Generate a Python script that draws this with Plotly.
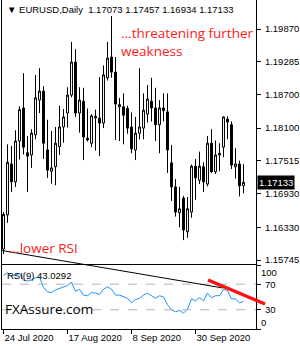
import plotly.graph_objects as go
import pandas as pd

# ---------------- data ----------------
dates = [d.strftime("%Y-%m-%d") for d in pd.bdate_range("2020-07-24", "2020-10-16")]

open_ = [1.1594, 1.1655, 1.1746, 1.1714, 1.1787, 1.1846, 1.1766, 1.1762, 1.1798, 1.1860,
         1.1876, 1.1771, 1.1733, 1.1741, 1.1777, 1.1812, 1.1837, 1.1869, 1.1928, 1.1837,
         1.1858, 1.1792, 1.1783, 1.1828, 1.1828, 1.1819, 1.1900, 1.1937, 1.1910, 1.1848,
         1.1848, 1.1845, 1.1812, 1.1771, 1.1801, 1.1810, 1.1835, 1.1858, 1.1846, 1.1816,
         1.1846, 1.1839, 1.1748, 1.1705, 1.1659, 1.1685, 1.1625, 1.1660, 1.1742, 1.1717,
         1.1741, 1.1710, 1.1783, 1.1732, 1.1762, 1.1776, 1.1826, 1.1816, 1.1741, 1.1746,
         1.17073]
high = [1.1660, 1.1781, 1.1778, 1.1806, 1.1849, 1.1908, 1.1796, 1.1808, 1.1905, 1.1917,
        1.1885, 1.1825, 1.1805, 1.1812, 1.1850, 1.1844, 1.1883, 1.1964, 1.1951, 1.1883,
        1.1882, 1.1845, 1.1835, 1.1843, 1.1901, 1.1922, 1.1964, 1.2010, 1.1937, 1.1864,
        1.1872, 1.1850, 1.1838, 1.1830, 1.1917, 1.1872, 1.1887, 1.1900, 1.1882, 1.1860,
        1.1872, 1.1872, 1.1780, 1.1719, 1.1705, 1.1689, 1.1687, 1.1745, 1.1755, 1.1768,
        1.1749, 1.1796, 1.1808, 1.1788, 1.1783, 1.1831, 1.1831, 1.1822, 1.1774, 1.1752,
        1.17457]
low = [1.1585, 1.1641, 1.1696, 1.1705, 1.1754, 1.1763, 1.1696, 1.1739, 1.1790, 1.1837,
       1.1755, 1.1721, 1.1711, 1.1708, 1.1762, 1.1784, 1.1811, 1.1865, 1.1830, 1.1802,
       1.1753, 1.1786, 1.1776, 1.1770, 1.1760, 1.1810, 1.1895, 1.1900, 1.1789, 1.1787,
       1.1781, 1.1800, 1.1765, 1.1753, 1.1790, 1.1790, 1.1820, 1.1822, 1.1787, 1.1765,
       1.1822, 1.1730, 1.1680, 1.1652, 1.1633, 1.1610, 1.1614, 1.1650, 1.1682, 1.1710,
       1.1696, 1.1706, 1.1730, 1.1728, 1.1733, 1.1758, 1.1790, 1.1737, 1.1720, 1.1688,
       1.16934]
close = [1.1656, 1.1749, 1.1714, 1.1787, 1.1843, 1.1776, 1.1760, 1.1801, 1.1864, 1.1876,
         1.1783, 1.1735, 1.1739, 1.1783, 1.1812, 1.1830, 1.1869, 1.1928, 1.1837, 1.1860,
         1.1794, 1.1789, 1.1832, 1.1831, 1.1819, 1.1905, 1.1935, 1.1910, 1.1853, 1.1852,
         1.1833, 1.1810, 1.1773, 1.1801, 1.1812, 1.1842, 1.1862, 1.1846, 1.1816, 1.1846,
         1.1841, 1.1771, 1.1705, 1.1660, 1.1666, 1.1628, 1.1666, 1.1742, 1.1721, 1.1742,
         1.1714, 1.1783, 1.1732, 1.1762, 1.1765, 1.1830, 1.1821, 1.1744, 1.1746, 1.1707,
         1.17133]
rsi = [84, 88, 82, 85, 87, 76, 75, 77, 80, 81,
       65, 58, 57, 61, 63, 65, 68, 73, 59, 62,
       53, 52, 57, 56, 54, 62, 66, 62, 53, 53,
       51, 48, 41, 46, 48, 53, 56, 52, 48, 52,
       50, 38, 30, 27, 29, 25, 31, 47, 44, 49,
       44, 56, 49, 52, 52, 62, 60, 47, 47, 41,
       43.0292]

price_ticks = [1.19870, 1.19285, 1.18700, 1.18100, 1.17515, 1.16930, 1.16330, 1.15745]
rsi_ticks = [100, 70, 30, 0]
date_tick_idx = [0, 16, 32, 48]
date_tick_text = ["24 Jul 2020", "17 Aug 2020", "8 Sep 2020", "30 Sep 2020"]

# ---------------- figure ----------------
FONT = "Liberation Sans, Arial, sans-serif"
RED = "#ff1a1a"

fig = go.Figure()
fig.add_trace(go.Candlestick(
    x=dates, open=open_, high=high, low=low, close=close,
    increasing=dict(line=dict(color="black", width=1), fillcolor="white"),
    decreasing=dict(line=dict(color="black", width=1), fillcolor="black"),
    whiskerwidth=0, hoverinfo="skip", xaxis="x", yaxis="y", showlegend=False))
fig.add_trace(go.Scatter(
    x=dates, y=rsi, mode="lines", line=dict(color="#1e90ff", width=1),
    xaxis="x2", yaxis="y2", hoverinfo="skip", showlegend=False))

W, H = 300, 350
ml, mr, mt, mb = 2, 44, 0, 21
pw, ph = W - ml - mr, H - mt - mb
split = 64 / ph  # boundary between price and RSI panes

xr = [-0.375, 63.125]
fig.update_layout(
    width=W, height=H, margin=dict(l=ml, r=mr, t=mt, b=mb),
    paper_bgcolor="white", plot_bgcolor="white",
    font=dict(family=FONT, size=9.5, color="black"),
    xaxis=dict(domain=[0, 1], anchor="y", type="category", categoryorder="array",
               categoryarray=dates, range=xr, showticklabels=False, ticks="",
               showline=False, showgrid=False, zeroline=False,
               rangeslider=dict(visible=False)),
    yaxis=dict(domain=[split, 1], anchor="x", side="right",
               range=[1.19870 - 236 / 5600, 1.19870 + 29 / 5600],
               tickvals=price_ticks, ticktext=[f"{v:.5f}" for v in price_ticks],
               ticks="outside", ticklen=4, tickcolor="black", showgrid=False,
               zeroline=False, showline=True, mirror=True, linecolor="black",
               linewidth=1, ticklabelstandoff=2),
    xaxis2=dict(domain=[0, 1], anchor="y2", type="category", categoryorder="array",
                categoryarray=dates, range=xr,
                tickvals=[dates[i] for i in date_tick_idx], ticktext=date_tick_text,
                ticks="outside", ticklen=4, tickcolor="black",
                ticklabelposition="outside right",
                showline=True, mirror=True, linecolor="black", linewidth=1,
                showgrid=False, zeroline=False),
    yaxis2=dict(domain=[0, split], anchor="x2", side="right", range=[0, 100],
                tickvals=rsi_ticks, ticktext=["", "70", "30", ""],
                ticks="outside", ticklen=4, tickcolor="black",
                showline=True, mirror=True, linecolor="black", linewidth=1,
                showgrid=False, zeroline=False, ticklabelstandoff=2),
)

# edge labels of the RSI scale drawn inside the pane, as the terminal does
for val, shift in ((100, -7), (0, 7)):
    fig.add_annotation(xref="paper", yref="y2", x=1, y=val, yshift=shift, xshift=3,
                       text=str(val), showarrow=False, xanchor="left", yanchor="middle",
                       font=dict(size=9.5, color="black", family=FONT))

# RSI levels
for lvl in (70, 30):
    fig.add_shape(type="line", xref="x2 domain", yref="y2", x0=0, x1=1, y0=lvl, y1=lvl,
                  line=dict(color="#b4b4b4", width=1, dash="dash"))


def px(x):
    return (x - ml) / pw


def py(y):
    return (H - mb - y) / ph


# hand-drawn trend lines
fig.add_shape(type="line", xref="paper", yref="paper",
              x0=px(2), y0=py(250.5), x1=px(223), y1=py(288),
              line=dict(color="black", width=1))
fig.add_shape(type="line", xref="paper", yref="paper",
              x0=px(208), y0=py(280), x1=px(265), y1=py(304),
              line=dict(color="#ff1010", width=3.5))

# texts
def note(x, y, text, size=9.5, color="black", family=FONT):
    fig.add_annotation(xref="paper", yref="paper", x=px(x), y=py(y), text=text,
                       showarrow=False, xanchor="left", yanchor="middle",
                       font=dict(size=size, color=color, family=family))


note(5, 10, "▼ EURUSD,Daily  1.17073 1.17457 1.16934 1.17133")
note(119, 33, "...threatening further", 13.5, RED, "Open Sans, sans-serif")
note(119, 51, "weakness", 13.5, RED, "Open Sans, sans-serif")
note(7, 248, "...lower RSI", 13.5, RED, "Open Sans, sans-serif")
note(5, 275, "RSI(9) 43.0292")
note(3, 309, "FXAssure.com", 13.5, "black", "Open Sans, sans-serif")

# current price label
fig.add_annotation(xref="paper", yref="y", x=1, y=close[-1], text=f"{close[-1]:.5f}",
                   showarrow=False, xanchor="left", yanchor="middle", xshift=1,
                   bgcolor="black", borderpad=1,
                   font=dict(size=9.5, color="white", family=FONT))

fig.write_html("out.html")
